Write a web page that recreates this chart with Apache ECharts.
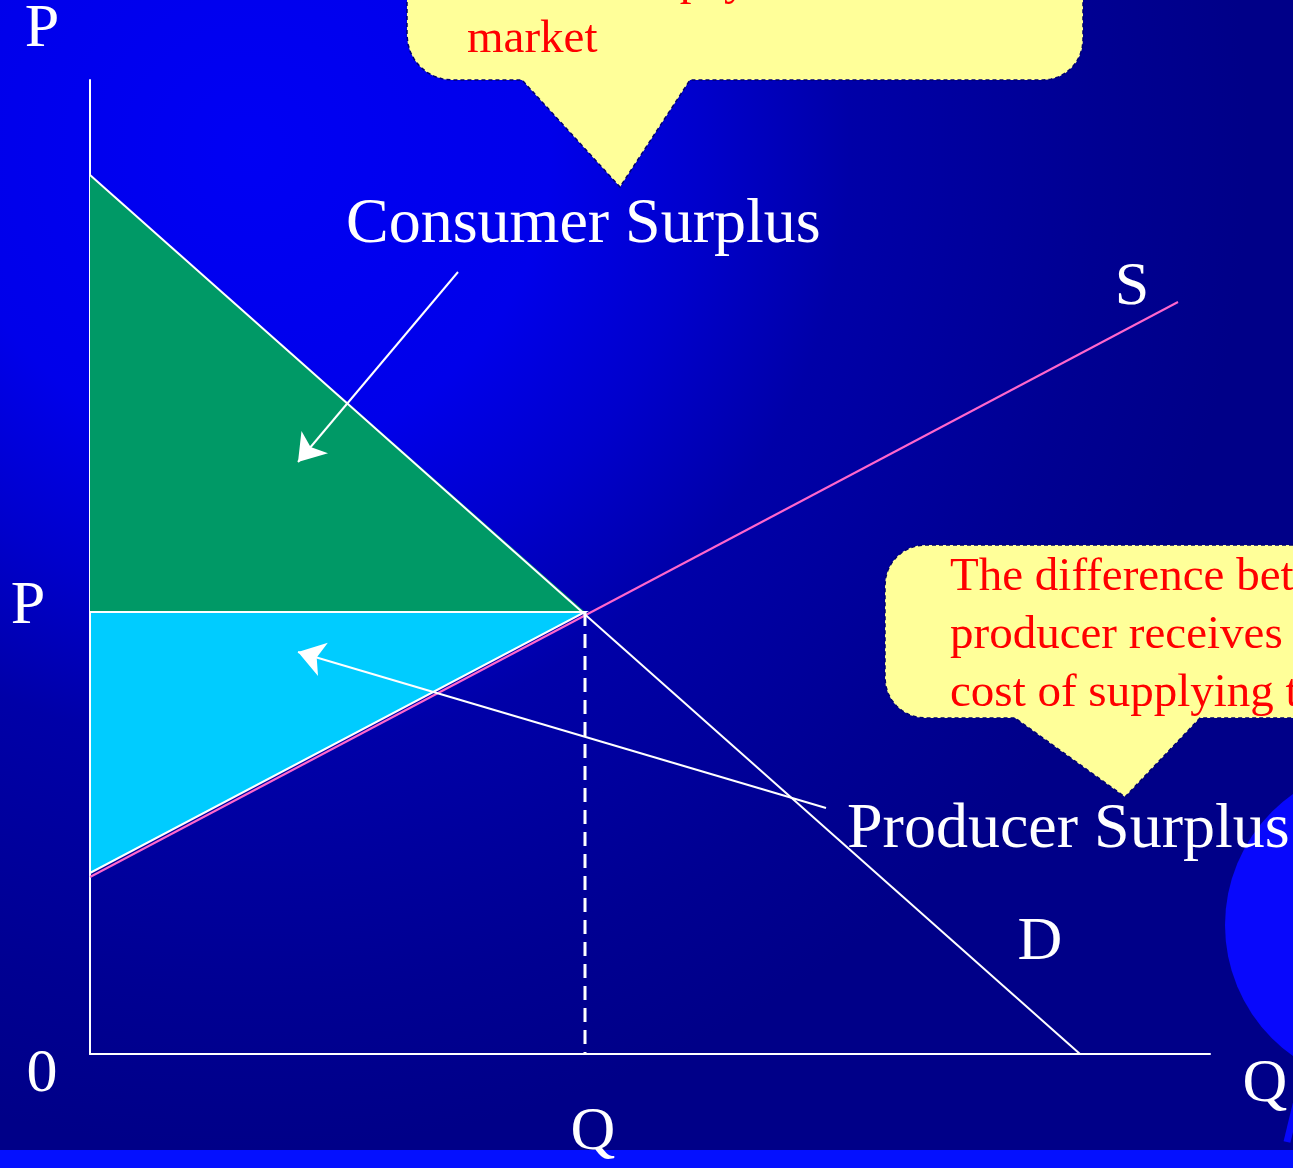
<!DOCTYPE html>
<html><head><meta charset="utf-8">
<script src="https://cdn.jsdelivr.net/npm/echarts@6/dist/echarts.min.js"></script>
<style>html,body{margin:0;padding:0;background:#000088;overflow:hidden}#c{width:1293px;height:1168px}</style>
</head><body><div id="c"></div>
<script>
// ---- data (Q on x, P on y) ----
const qtyMax = 11.2;
const priceMax = 9.74;
const demand = [[0, 8.79], [9.9, 0]];
const supply = [[0, 1.77], [10.88, 7.52]];
const eqQ = 4.95;
const eqP = 4.42;
const consumerSurplus = [[0, 8.79], [0, eqP], [eqQ, eqP]];
const producerSurplus = [[0, eqP], [eqQ, eqP], [0, 1.81]];
const priceGuide = [[0, eqP], [eqQ, eqP]];
const qtyGuide = [[eqQ, eqP], [eqQ, 0]];
const axisTexts = ['P', 'P', '0', 'Q', 'Q', 'S', 'D'];
const axisTextAt = [[-0.48, 10.24], [-0.62, 4.47], [-0.48, -0.21], [5.03, -0.79], [11.75, -0.31], [10.42, 7.66], [9.5, 1.11]];
const surplusTexts = ['Consumer Surplus', 'Producer Surplus'];
const surplusTextAt = [[2.56, 8.29], [7.57, 2.24]];
const arrows = [[[3.68, 7.82], [2.08, 5.92]], [[7.36, 2.46], [2.08, 4.02]]];
const noteTop = ['buyers are willing to pay and what', 'consumers pay in the', 'market'];
const noteBottom = ['The difference between the price a', 'producer receives and the', 'cost of supplying the good'];

const serif = '"Liberation Serif", "Times New Roman", serif';
const chart = echarts.init(document.getElementById('c'), null, {renderer: 'canvas'});

function textSeries(texts, at, size, align) {
  return {
    type: 'custom', coordinateSystem: 'cartesian2d', silent: true, z: 10,
    data: at.map((p, i) => [p[0], p[1], i]),
    renderItem: (params, api) => {
      const pt = api.coord([api.value(0), api.value(1)]);
      return {type: 'text', x: pt[0], y: pt[1], style: {
        text: texts[api.value(2)], fill: '#ffffff', font: size + 'px ' + serif,
        align: align, verticalAlign: 'middle'}};
    }
  };
}
function polySeries(points, fill, stroke) {
  return {
    type: 'custom', coordinateSystem: 'cartesian2d', silent: true, z: 1,
    data: [0],
    renderItem: (params, api) => ({
      type: 'polygon',
      shape: {points: points.map(p => api.coord(p))},
      style: {fill: fill, stroke: stroke, lineWidth: 2}
    })
  };
}
// rounded corner helper for the decorative callout outlines
function arcPts(cx, cy, r, a0, a1) {
  const out = [];
  for (let k = 0; k <= 8; k++) {
    const a = (a0 + (a1 - a0) * k / 8) * Math.PI / 180;
    out.push([cx + r * Math.cos(a), cy + r * Math.sin(a)]);
  }
  return out;
}
const topCallout = [[407, -5]].concat(arcPts(452, 35, 45, 180, 90), [[522, 80], [620, 187], [690, 80]],
  arcPts(1043, 40, 40, 90, 0), [[1083, -5]]);
const bottomCallout = [[1300, 545]].concat(arcPts(925, 585, 40, 270, 180), arcPts(925, 678, 40, 180, 90),
  [[1015, 718], [1125, 797], [1200, 718], [1300, 718]]);

const noteFont = '47px ' + serif;
function note(text, x, y) {
  return {type: 'text', silent: true, z: 51, x: x, y: y,
    style: {text: text, font: noteFont, fill: '#ff0000', align: 'left', verticalAlign: 'middle'}};
}
const option = {
  animation: false,
  grid: {left: 90, top: 80, width: 1120, height: 974, containLabel: false},
  xAxis: {type: 'value', min: 0, max: qtyMax, axisLine: {show: true, lineStyle: {color: '#ffffff', width: 2}},
    axisTick: {show: false}, axisLabel: {show: false}, splitLine: {show: false}},
  yAxis: {type: 'value', min: 0, max: priceMax, axisLine: {show: true, lineStyle: {color: '#ffffff', width: 2}},
    axisTick: {show: false}, axisLabel: {show: false}, splitLine: {show: false}},
  graphic: [
    {type: 'rect', silent: true, z: -100, shape: {x: 0, y: 0, width: 1293, height: 1168},
      style: {fill: new echarts.graphic.RadialGradient(250, 150, 1000, [
        {offset: 0, color: '#0000f4'}, {offset: 0.3, color: '#0000ea'}, {offset: 0.45, color: '#0000cc'},
        {offset: 0.6, color: '#0000a8'}, {offset: 0.85, color: '#000092'}, {offset: 1, color: '#000088'}], true)}},
    {type: 'rect', silent: true, z: -99, shape: {x: 0, y: 1150, width: 1293, height: 18}, style: {fill: '#0410ff'}},
    {type: 'circle', silent: true, z: 5, shape: {cx: 1385, cy: 925, r: 160}, style: {fill: '#0808fc'}},
    {type: 'line', silent: true, z: 15, shape: {x1: 1302, y1: 1080, x2: 1287, y2: 1142}, style: {stroke: '#0808fc', lineWidth: 7}},
    {type: 'polygon', silent: true, z: 50, shape: {points: topCallout},
      style: {fill: '#ffff99', stroke: '#000070', lineWidth: 1.5, lineDash: [4, 3]}},
    {type: 'polygon', silent: true, z: 50, shape: {points: bottomCallout},
      style: {fill: '#ffff99', stroke: '#000070', lineWidth: 1.5, lineDash: [4, 3]}},
    note(noteTop[0], 467, -76), note(noteTop[1], 467, -18), note(noteTop[2], 467, 40),
    note(noteBottom[0], 950, 578), note(noteBottom[1], 950, 636), note(noteBottom[2], 950, 694)
  ],
  series: [
    polySeries(consumerSurplus, '#009966', null),
    polySeries(producerSurplus, '#00ccff', '#ffffff'),
    {type: 'line', data: supply, symbol: 'none', silent: true, z: 3, lineStyle: {color: '#ff66cc', width: 2}},
    {type: 'line', data: demand, symbol: 'none', silent: true, z: 3, lineStyle: {color: '#ffffff', width: 2}},
    {type: 'line', data: priceGuide, symbol: 'none', silent: true, z: 3, lineStyle: {color: '#ffffff', width: 2, type: [12, 6]}},
    {type: 'line', data: qtyGuide, symbol: 'none', silent: true, z: 3, lineStyle: {color: '#ffffff', width: 3, type: [14, 8]}},
    {type: 'lines', coordinateSystem: 'cartesian2d', silent: true, z: 4,
      symbol: ['none', 'arrow'], symbolSize: [18, 26],
      lineStyle: {color: '#ffffff', width: 2, opacity: 1},
      data: arrows.map(a => ({coords: a}))},
    textSeries(axisTexts, axisTextAt, 62, 'center'),
    textSeries(surplusTexts, surplusTextAt, 64, 'left')
  ]
};
chart.setOption(option);
</script>
</body></html>
